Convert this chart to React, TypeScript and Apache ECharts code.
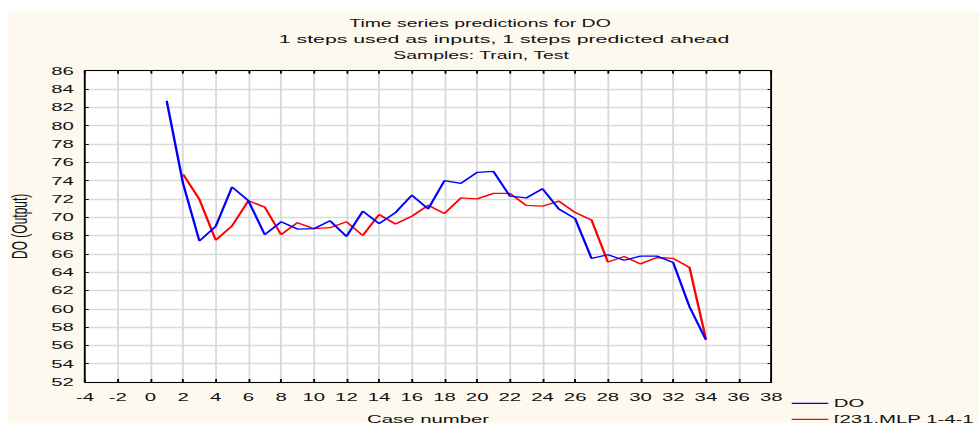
import React, { useEffect, useRef } from "react";
import * as echarts from "echarts";

// ---- data ----
const titleLines = [
  "Time series predictions for DO",
  "1 steps used as inputs, 1 steps predicted ahead",
  "Samples: Train, Test",
];
const xAxisName = "Case number";
const yAxisName = "DO (Output)";
const seriesNames = ["DO", "[231.MLP 1-4-1"];

const doCases = [1, 2, 3, 4, 5, 6, 7, 8, 9, 10, 11, 12, 13, 14, 15, 16, 17, 18, 19, 20, 21, 22, 23, 24, 25, 26, 27, 28, 29, 30, 31, 32, 33, 34];
const doValues = [82.7, 73.7, 67.4, 69.0, 73.3, 71.8, 68.1, 69.5, 68.7, 68.75, 69.6, 67.9, 70.65, 69.3, 70.5, 72.4, 70.9, 74.0, 73.7, 74.9, 75.0, 72.3, 72.1, 73.1, 70.9, 69.85, 65.5, 65.9, 65.3, 65.75, 65.75, 65.05, 60.2, 56.6];

const mlpCases = [2, 3, 4, 5, 6, 7, 8, 9, 10, 11, 12, 13, 14, 15, 16, 17, 18, 19, 20, 21, 22, 23, 24, 25, 26, 27, 28, 29, 30, 31, 32, 33, 34];
const mlpValues = [74.7, 71.95, 67.5, 69.05, 71.8, 71.1, 68.1, 69.4, 68.75, 68.85, 69.5, 68.0, 70.3, 69.25, 70.1, 71.3, 70.4, 72.1, 72.0, 72.6, 72.6, 71.3, 71.2, 71.75, 70.5, 69.7, 65.1, 65.7, 64.9, 65.6, 65.5, 64.5, 56.7];

const seriesColors = ["#0000ff", "#ff0000"];

const xMin = -4, xMax = 38, xStep = 2;
const yMin = 52, yMax = 86, yStep = 2;

// ---- layout (the reference picture is horizontally stretched) ----
const S = 1.85;
const PAGE_LEFT = 8;
const PAGE_TOP = 11;
const W = (980 - PAGE_LEFT) / S;
const H = 423 - PAGE_TOP;
const px = (pageX: number) => (pageX - PAGE_LEFT) / S;
const py = (pageY: number) => pageY - PAGE_TOP;

const FONT = "'Liberation Sans', Arial, sans-serif";

export default function App() {
  const ref = useRef<HTMLDivElement>(null);

  useEffect(() => {
    if (!ref.current) return;
    const chart = echarts.init(ref.current, null, { renderer: "svg" });

    const gridLeft = px(85);
    const gridRight = W - px(772);
    const gridTop = py(70.7);
    const gridBottom = H - py(382);

    const titleCfg = [
      { text: titleLines[0], x: 480, y: 23.5, size: 10.5 },
      { text: titleLines[1], x: 504, y: 39.5, size: 11.5 },
      { text: titleLines[2], x: 481, y: 55.5, size: 10.5 },
    ];

    const legendRows = [403.3, 419.3];

    chart.setOption({
      animation: false,
      backgroundColor: "#fdf9ee",
      title: titleCfg.map((t) => ({
        text: t.text,
        left: px(t.x),
        top: py(t.y) - 7,
        textAlign: "center",
        padding: 0,
        textStyle: {
          fontFamily: FONT,
          fontSize: t.size,
          fontWeight: "normal",
          color: "#111",
          lineHeight: 14,
        },
      })),
      legend: seriesNames.map((name, i) => ({
        orient: "vertical",
        left: px(791.7),
        top: py(legendRows[i]) - 6,
        padding: 0,
        icon: "rect",
        itemWidth: (828.3 - 791.7) / S,
        itemHeight: 1.2,
        textStyle: { fontFamily: FONT, fontSize: 11, color: "#111", lineHeight: 12, padding: [0, 0, 0, -2] },
        data: [name],
      })),
      grid: {
        left: gridLeft,
        right: gridRight,
        top: gridTop,
        bottom: gridBottom,
        outerBoundsMode: "none",
        containLabel: false,
        show: true,
        backgroundColor: "#ffffff",
        borderWidth: 0,
      },
      xAxis: [
        {
          type: "value",
          min: xMin,
          max: xMax,
          interval: xStep,
          name: xAxisName,
          nameLocation: "middle",
          nameGap: 31,
          nameTextStyle: { fontFamily: FONT, fontSize: 11, color: "#111" },
          axisLine: { show: true, onZero: false, lineStyle: { color: "#000", width: 1 } },
          axisTick: { show: true, inside: true, length: 3, lineStyle: { color: "#000" } },
          axisLabel: { fontFamily: FONT, fontSize: 11, color: "#111", margin: 9 },
          splitLine: { show: true, lineStyle: { color: "#d9d9d9", width: 1 } },
        },
        {
          type: "value",
          position: "top",
          min: xMin,
          max: xMax,
          interval: xStep,
          axisLine: { show: true, onZero: false, lineStyle: { color: "#000", width: 1 } },
          axisTick: { show: true, inside: true, length: 3, lineStyle: { color: "#000" } },
          axisLabel: { show: false },
          splitLine: { show: false },
        },
      ],
      yAxis: [
        {
          type: "value",
          min: yMin,
          max: yMax,
          interval: yStep,
          name: yAxisName,
          nameLocation: "middle",
          nameRotate: 90,
          nameGap: 20.5,
          nameTextStyle: { fontFamily: FONT, fontSize: 12, color: "#111" },
          axisLine: { show: true, onZero: false, lineStyle: { color: "#000", width: 1 } },
          axisTick: { show: true, inside: true, length: 2, lineStyle: { color: "#000" } },
          axisLabel: { fontFamily: FONT, fontSize: 11, color: "#111", margin: 6 },
          splitLine: { show: true, lineStyle: { color: "#d9d9d9", width: 1.3 } },
        },
        {
          type: "value",
          position: "right",
          min: yMin,
          max: yMax,
          interval: yStep,
          axisLine: { show: true, onZero: false, lineStyle: { color: "#000", width: 1 } },
          axisTick: { show: true, inside: true, length: 2, lineStyle: { color: "#000" } },
          axisLabel: { show: false },
          splitLine: { show: false },
        },
      ],
      series: [
        {
          name: seriesNames[0],
          type: "line",
          xAxisIndex: 0,
          yAxisIndex: 0,
          symbol: "none",
          lineStyle: { color: seriesColors[0], width: 1.3 },
          itemStyle: { color: seriesColors[0] },
          data: doCases.map((c, i) => [c, doValues[i]]),
          z: 3,
        },
        {
          name: seriesNames[1],
          type: "line",
          xAxisIndex: 0,
          yAxisIndex: 0,
          symbol: "none",
          lineStyle: { color: seriesColors[1], width: 1.3 },
          itemStyle: { color: seriesColors[1] },
          data: mlpCases.map((c, i) => [c, mlpValues[i]]),
          z: 2,
        },
      ],
    });

    return () => chart.dispose();
  }, []);

  return (
    <div
      ref={ref}
      style={{
        position: "absolute",
        left: PAGE_LEFT,
        top: PAGE_TOP,
        width: W,
        height: H,
        transform: `scaleX(${S})`,
        transformOrigin: "0 0",
        overflow: "hidden",
      }}
    />
  );
}
